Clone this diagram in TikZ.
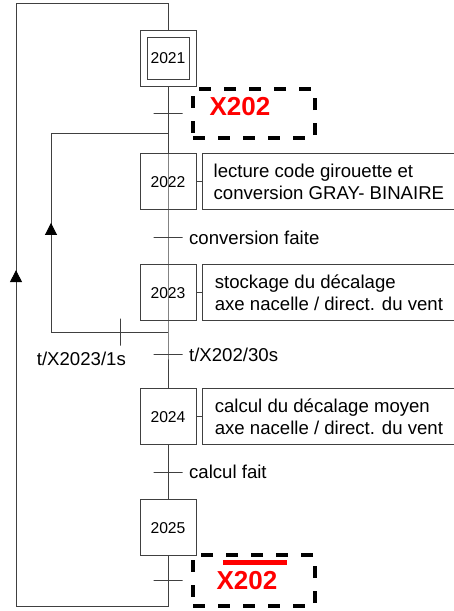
\documentclass[tikz,border=0pt]{standalone}
\usepackage{fontspec}
\setmainfont{Liberation Sans}
\usetikzlibrary{arrows.meta,positioning,calc}
\definecolor{trait}{gray}{0.25}

\begin{document}
\begin{tikzpicture}[x=1pt,y=-1pt,
  etape/.style={draw=trait,line width=0.9pt,minimum size=56pt,inner sep=0pt,font=\fontsize{15.7}{18}\selectfont},
  action/.style={draw=trait,line width=0.9pt,minimum width=252pt,minimum height=56pt,align=left,inner sep=0pt,font=\fontsize{18.6}{22}\selectfont},
  barre/.style={draw=trait,line width=0.9pt,minimum width=29pt,minimum height=0pt,inner sep=0pt},
  recep/.style={inner sep=0pt,font=\fontsize{18.6}{22}\selectfont},
  cadre/.style={draw=black,line width=4pt,dash pattern=on 12pt off 13pt,minimum width=122pt,minimum height=49pt,inner sep=0pt},
  xvar/.style={text=red,inner sep=0pt,font=\bfseries\fontsize{26}{30}\selectfont},
  ligne/.style={draw=trait,line width=0.9pt},
  fleche/.style={ligne,-{Triangle[length=12pt,width=12pt,color=black]}},
  node distance=6pt]
\useasboundingbox (0,0) rectangle (454,611);

% etapes
\node[etape] (e2021) at (168,58) {};
\node[etape,minimum size=42pt] (e2021i) at (e2021) {2021};
\node[etape,below=67pt of e2021] (e2022) {2022};
\node[etape,below=54pt of e2022] (e2023) {2023};
\node[etape,below=67pt of e2023] (e2024) {2024};
\node[etape,below=54pt of e2024] (e2025) {2025};

% actions
\node[action,right=of e2022] (a2022) {lecture code girouette et\\conversion GRAY- BINAIRE};
\node[action,right=of e2023] (a2023) {stockage du décalage\\axe nacelle / direct. du vent};
\node[action,right=of e2024] (a2024) {calcul du décalage moyen\\axe nacelle / direct. du vent};
\draw[ligne] (e2022.east) -- (a2022.west);
\draw[ligne] (e2023.east) -- (a2023.west);
\draw[ligne] (e2024.east) -- (a2024.west);

% boucles
\coordinate (ob) at (168,606);
\coordinate (og) at (16,606);
\coordinate (oh) at (16,3);
\coordinate (od) at (168,3);
\coordinate (ib) at (168,332);
\coordinate (ig) at (51,332);
\coordinate (ih) at (51,133);
\coordinate (id) at (168,133);

% transitions
\node[barre] (t1) at ($(e2021.south)!0.4!(e2022.north)$) {};
\node[barre] (t2) at ($(e2022.south)!0.5!(e2023.north)$) {};
\node[barre] (t3) at ($(e2023.south)!0.5!(e2024.north)$) {};
\node[barre] (t4) at ($(e2024.south)!0.5!(e2025.north)$) {};
\node[barre] (t5) at ($(e2025.south)!0.49!(ob)$) {};
\node[barre,minimum width=0pt,minimum height=27pt] (t6) at ($(ig)!0.59!(ib)$) {};

\node[recep,right=of t2] (r2) {conversion faite};
\node[recep,right=of t3] (r3) {t/X202/30s};
\node[recep,right=of t4] (r4) {calcul fait};
\node[recep,anchor=north east] (r6) at ([xshift=6pt,yshift=-6pt]t6.south) {t/X2023/1s};

% receptivites X202
\node[cadre] (c1) at (254,113.5) {};
\node[xvar] (x1) at (240,106.5) {X202};
\node[cadre,minimum height=51pt] (c2) at (254,580.5) {};
\node[xvar] (x2) at (247,580.5) {X202};
\draw[red,line width=5pt] ([xshift=6.5pt,yshift=8.7pt]x2.north west) -- ([xshift=9.5pt,yshift=8.7pt]x2.north east);

% liaisons
\draw[ligne] (e2021.south) -- (e2022.north);
\draw[ligne] (id) -- (ib) -- (e2024.north);
\draw[ligne] (ib) -- (ig) -- (ih) -- (id);
\draw[fleche] (ig) -- ($(ig)!0.548!(ih)$);
\draw[ligne] (e2024.south) -- (e2025.north);
\draw[ligne] (e2025.south) -- (ob) -- (og) -- (oh) -- (od) -- (e2021.north);
\draw[fleche] (og) -- ($(og)!0.557!(oh)$);
\end{tikzpicture}
\end{document}
